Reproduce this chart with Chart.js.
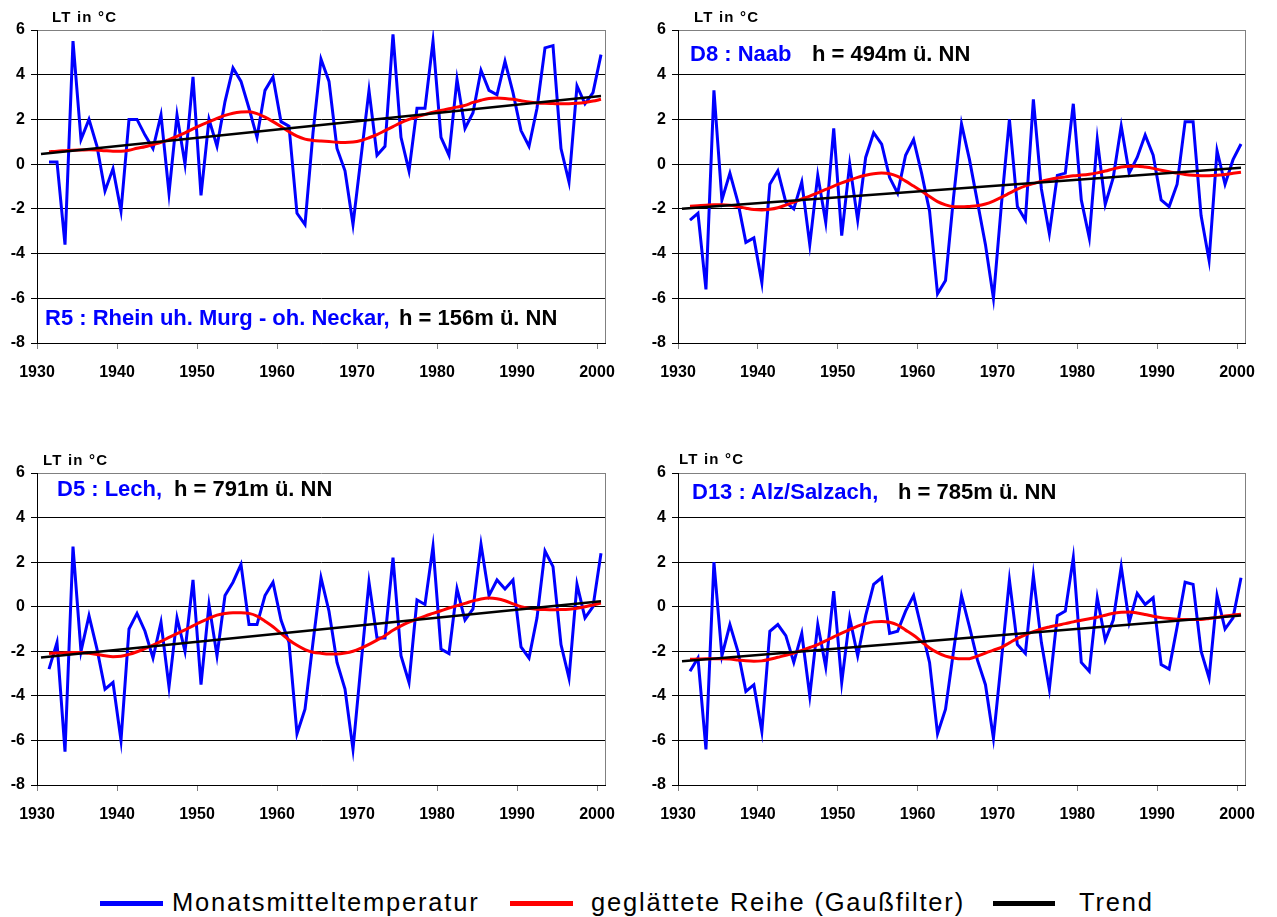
<!DOCTYPE html>
<html>
<head>
<meta charset="utf-8">
<title>Lufttemperatur 1931–2000</title>
<script src="https://cdn.jsdelivr.net/npm/chart.js@4.4.1/dist/chart.umd.min.js"></script>
<style>
  html, body { margin: 0; padding: 0; background: #fff; }
  body { width: 1277px; height: 917px; position: relative; overflow: hidden;
         font-family: "Liberation Sans", Arial, sans-serif; color: #000; }
  .panel { position: absolute; }
  canvas { display: block; }
  .unit { position: absolute; font-weight: bold; font-size: 15px; line-height: 1;
          letter-spacing: 1.2px; white-space: nowrap; }
  .title { position: absolute; font-weight: bold; font-size: 22px; line-height: 1; white-space: nowrap; }
  .blue { color: #0000ff; }
  .legend-line { position: absolute; height: 5px; }
  .legend-text { position: absolute; font-size: 25.5px; line-height: 1; letter-spacing: 1.8px; white-space: nowrap; }
</style>
</head>
<body>

<div class="panel" style="left:0;top:0"><canvas id="cR5" width="640" height="400"></canvas></div>
<div class="panel" style="left:640px;top:0"><canvas id="cD8" width="637" height="400"></canvas></div>
<div class="panel" style="left:0;top:445px"><canvas id="cD5" width="640" height="400"></canvas></div>
<div class="panel" style="left:640px;top:445px"><canvas id="cD13" width="637" height="400"></canvas></div>

<div class="unit" style="left:52px;top:9px">LT in °C</div>
<div class="unit" style="left:694px;top:9px">LT in °C</div>
<div class="unit" style="left:43px;top:452px">LT in °C</div>
<div class="unit" style="left:679px;top:451px">LT in °C</div>

<div class="title blue" style="left:45px;top:307px">R5 : Rhein uh. Murg - oh. Neckar,</div>
<div class="title" style="left:399px;top:307px">h = 156m ü. NN</div>
<div class="title blue" style="left:690px;top:43px">D8 : Naab</div>
<div class="title" style="left:812px;top:43px">h = 494m ü. NN</div>
<div class="title blue" style="left:57px;top:478px">D5 : Lech,</div>
<div class="title" style="left:174px;top:478px">h = 791m ü. NN</div>
<div class="title blue" style="left:692px;top:481px">D13 : Alz/Salzach,</div>
<div class="title" style="left:898px;top:481px">h = 785m ü. NN</div>

<div class="legend-line" style="left:100px;top:901px;width:63px;background:#0000ff"></div>
<div class="legend-text" style="left:172px;top:890px">Monatsmitteltemperatur</div>
<div class="legend-line" style="left:510px;top:901px;width:63px;background:#ff0000"></div>
<div class="legend-text" style="left:591px;top:890px">geglättete Reihe (Gaußfilter)</div>
<div class="legend-line" style="left:993px;top:901px;width:62px;background:#000"></div>
<div class="legend-text" style="left:1079px;top:890px">Trend</div>

<script>
// Years of the series (annual values, plotted at mid-year)
const years = [
  1931,1932,1933,1934,1935,1936,1937,1938,1939,1940,
  1941,1942,1943,1944,1945,1946,1947,1948,1949,1950,
  1951,1952,1953,1954,1955,1956,1957,1958,1959,1960,
  1961,1962,1963,1964,1965,1966,1967,1968,1969,1970,
  1971,1972,1973,1974,1975,1976,1977,1978,1979,1980,
  1981,1982,1983,1984,1985,1986,1987,1988,1989,1990,
  1991,1992,1993,1994,1995,1996,1997,1998,1999,2000
];
const trendYears = [1930, 2000];
const xTickYears = [1930, 1940, 1950, 1960, 1970, 1980, 1990, 2000];
const yTickValues = [-8, -6, -4, -2, 0, 2, 4, 6];

// R5 : Rhein uh. Murg - oh. Neckar
const r5Monthly = [
  0.1, 0.1, -3.6, 5.5, 1.1, 2.0, 0.8, -1.2, -0.2, -2.1,
  2.0, 2.0, 1.3, 0.7, 2.2, -1.3, 2.2, 0.0, 3.9, -1.4,
  2.0, 0.8, 2.8, 4.3, 3.7, 2.5, 1.2, 3.3, 3.9, 1.9,
  1.7, -2.2, -2.7, 1.4, 4.7, 3.7, 0.7, -0.3, -2.7, 0.3,
  3.3, 0.4, 0.8, 5.8, 1.2, -0.3, 2.5, 2.5, 5.5, 1.2,
  0.4, 3.8, 1.6, 2.3, 4.2, 3.3, 3.1, 4.6, 3.2, 1.5,
  0.8, 2.5, 5.2, 5.3, 0.7, -0.8, 3.5, 2.7, 3.2, 4.9
];
const r5Smoothed = [
  0.55, 0.58, 0.60, 0.62, 0.63, 0.64, 0.63, 0.60, 0.58, 0.58,
  0.62, 0.71, 0.78, 0.88, 0.98, 1.10, 1.24, 1.40, 1.58, 1.75,
  1.90, 2.05, 2.18, 2.28, 2.33, 2.34, 2.26, 2.10, 1.90, 1.68,
  1.45, 1.25, 1.12, 1.06, 1.03, 1.01, 0.98, 0.97, 0.99, 1.06,
  1.18, 1.32, 1.50, 1.68, 1.86, 2.00, 2.12, 2.22, 2.32, 2.40,
  2.48, 2.55, 2.63, 2.76, 2.86, 2.94, 2.96, 2.94, 2.90, 2.84,
  2.78, 2.74, 2.72, 2.71, 2.70, 2.70, 2.72, 2.76, 2.82, 2.90
];
const r5Trend = [0.45, 3.05];

// D8 : Naab
const d8Monthly = [
  -2.5, -2.2, -5.6, 3.3, -1.6, -0.4, -1.7, -3.5, -3.3, -5.3,
  -0.9, -0.3, -1.7, -2.0, -0.8, -3.6, -0.5, -2.6, 1.6, -3.2,
  0.0, -2.5, 0.3, 1.4, 0.9, -0.6, -1.3, 0.4, 1.1, -0.4,
  -2.1, -5.8, -5.2, -1.5, 1.8, 0.2, -1.7, -3.6, -6.0, -1.8,
  2.0, -1.9, -2.5, 2.9, -1.1, -3.1, -0.5, -0.4, 2.7, -1.6,
  -3.3, 1.1, -1.8, -0.6, 1.7, -0.4, 0.3, 1.3, 0.4, -1.6,
  -1.9, -0.9, 1.9, 1.9, -2.3, -4.3, 0.6, -0.9, 0.2, 0.9
];
const d8Smoothed = [
  -1.88, -1.86, -1.84, -1.82, -1.82, -1.84, -1.90, -1.97, -2.03, -2.05,
  -2.02, -1.95, -1.83, -1.70, -1.56, -1.43, -1.28, -1.13, -0.98, -0.84,
  -0.71, -0.59, -0.50, -0.43, -0.40, -0.43, -0.55, -0.76, -0.98, -1.20,
  -1.45, -1.68, -1.82, -1.90, -1.91, -1.89, -1.86, -1.78, -1.65, -1.48,
  -1.30, -1.12, -0.97, -0.87, -0.77, -0.69, -0.62, -0.57, -0.52, -0.49,
  -0.45, -0.39, -0.31, -0.21, -0.13, -0.09, -0.09, -0.13, -0.19, -0.27,
  -0.34, -0.40, -0.46, -0.50, -0.52, -0.52, -0.50, -0.46, -0.41, -0.36
];
const d8Trend = [-2.0, -0.16];

// D5 : Lech
const d5Monthly = [
  -2.8, -1.6, -6.5, 2.7, -2.0, -0.4, -1.9, -3.7, -3.4, -6.0,
  -1.0, -0.3, -1.1, -2.3, -0.7, -3.6, -0.5, -2.0, 1.2, -3.5,
  0.1, -2.2, 0.5, 1.1, 1.9, -0.8, -0.8, 0.5, 1.1, -0.6,
  -1.6, -5.7, -4.6, -1.6, 1.3, -0.2, -2.5, -3.7, -6.4, -2.6,
  1.1, -1.4, -1.4, 2.2, -2.2, -3.4, 0.3, 0.1, 2.7, -1.9,
  -2.1, 0.8, -0.6, -0.1, 2.8, 0.5, 1.2, 0.8, 1.2, -1.8,
  -2.3, -0.5, 2.5, 1.8, -1.7, -3.2, 1.0, -0.5, 0.0, 2.4
];
const d5Smoothed = [
  -2.10, -2.08, -2.07, -2.06, -2.06, -2.09, -2.14, -2.20, -2.24, -2.22,
  -2.14, -2.02, -1.88, -1.72, -1.56, -1.38, -1.21, -1.04, -0.86, -0.68,
  -0.52, -0.38, -0.30, -0.27, -0.27, -0.30, -0.42, -0.65, -0.90, -1.20,
  -1.49, -1.73, -1.92, -2.04, -2.09, -2.12, -2.12, -2.08, -2.00, -1.86,
  -1.69, -1.50, -1.30, -1.06, -0.86, -0.69, -0.55, -0.42, -0.30, -0.18,
  -0.06, 0.05, 0.15, 0.26, 0.35, 0.39, 0.36, 0.27, 0.13, 0.00,
  -0.07, -0.11, -0.13, -0.14, -0.13, -0.11, -0.07, 0.00, 0.08, 0.16
];
const d5Trend = [-2.28, 0.24];

// D13 : Alz/Salzach
const d13Monthly = [
  -2.9, -2.3, -6.4, 2.0, -2.2, -0.8, -2.0, -3.8, -3.5, -5.6,
  -1.1, -0.8, -1.3, -2.5, -1.2, -4.0, -0.8, -2.7, 0.7, -3.4,
  -0.5, -2.2, -0.4, 1.0, 1.3, -1.2, -1.1, -0.2, 0.5, -1.0,
  -2.5, -5.7, -4.6, -2.0, 0.5, -0.9, -2.4, -3.5, -5.9, -2.4,
  1.2, -1.7, -2.1, 1.4, -1.6, -3.7, -0.4, -0.2, 2.2, -2.5,
  -2.9, 0.4, -1.5, -0.6, 1.8, -0.7, 0.6, 0.1, 0.4, -2.6,
  -2.8, -0.9, 1.1, 1.0, -2.0, -3.2, 0.5, -1.0, -0.5, 1.3
];
const d13Smoothed = [
  -2.36, -2.35, -2.34, -2.33, -2.33, -2.35, -2.39, -2.43, -2.45, -2.43,
  -2.36, -2.27, -2.18, -2.08, -1.96, -1.83, -1.70, -1.53, -1.35, -1.19,
  -1.03, -0.87, -0.76, -0.68, -0.66, -0.70, -0.82, -1.05, -1.28, -1.57,
  -1.85, -2.06, -2.22, -2.30, -2.34, -2.33, -2.22, -2.08, -1.95, -1.82,
  -1.62, -1.42, -1.26, -1.12, -1.00, -0.91, -0.83, -0.76, -0.68, -0.61,
  -0.54, -0.47, -0.38, -0.29, -0.25, -0.24, -0.28, -0.35, -0.43, -0.49,
  -0.53, -0.56, -0.57, -0.57, -0.57, -0.53, -0.48, -0.42, -0.37, -0.34
];
const d13Trend = [-2.45, -0.39];

const tickFont = { family: '"Liberation Sans", Arial, sans-serif', size: 16, weight: 'bold' };

// Grey frame on the right-hand side of the plot area
const rightFrame = {
  id: 'rightFrame',
  beforeDatasetsDraw(chart) {
    const a = chart.chartArea, c = chart.ctx;
    c.save();
    c.strokeStyle = '#808080';
    c.lineWidth = 1;
    c.beginPath();
    c.moveTo(Math.round(a.right) + 0.5, a.top);
    c.lineTo(Math.round(a.right) + 0.5, a.bottom);
    c.stroke();
    c.restore();
  }
};

// annual values are plotted at mid-year
const toPoints = (xs, ys) => xs.map((yr, i) => ({ x: yr + 0.5, y: ys[i] }));

function drawPanel(id, monthly, smoothed, trend, box) {
  return new Chart(document.getElementById(id), {
    type: 'line',
    data: {
      datasets: [
        { label: 'Monatsmitteltemperatur', data: toPoints(years, monthly),
          borderColor: '#0000ff', borderWidth: 3, pointRadius: 0, tension: 0, order: 3 },
        { label: 'geglättete Reihe (Gaußfilter)', data: toPoints(years, smoothed),
          borderColor: '#ff0000', borderWidth: 3, pointRadius: 0,
          cubicInterpolationMode: 'monotone', order: 2 },
        { label: 'Trend', data: toPoints(trendYears, trend),
          borderColor: '#000000', borderWidth: 2.5, pointRadius: 0, tension: 0, order: 1 }
      ]
    },
    options: {
      responsive: false,
      animation: false,
      events: [],
      layout: { padding: { left: 0, right: box.right, top: box.top, bottom: 0 } },
      plugins: { legend: { display: false }, tooltip: { enabled: false } },
      scales: {
        x: {
          type: 'linear', min: 1930, max: 2001,
          afterBuildTicks: s => { s.ticks = xTickYears.map(v => ({ value: v })); },
          afterFit: s => { s.height = box.xh; },
          grid: { drawOnChartArea: false, drawTicks: true, tickLength: 6, tickColor: '#808080' },
          border: { color: '#000', width: 1 },
          ticks: { font: tickFont, color: '#000', padding: 14, maxRotation: 0, autoSkip: false,
                   callback: v => String(v) }
        },
        y: {
          type: 'linear', min: -8, max: 6,
          afterBuildTicks: s => { s.ticks = yTickValues.map(v => ({ value: v })); },
          afterFit: s => { s.width = box.yw; },
          grid: { color: c => (c.tick && c.tick.value === 6 ? '#808080' : '#000'),
                  tickColor: '#000', tickLength: 6, lineWidth: 1 },
          border: { color: '#000', width: 1 },
          ticks: { font: tickFont, color: '#000', padding: 6, callback: v => String(v) }
        }
      }
    },
    plugins: [rightFrame]
  });
}

drawPanel('cR5',  r5Monthly,  r5Smoothed,  r5Trend,  { yw: 37, right: 35, top: 30, xh: 57 });
drawPanel('cD8',  d8Monthly,  d8Smoothed,  d8Trend,  { yw: 38, right: 32, top: 30, xh: 57 });
drawPanel('cD5',  d5Monthly,  d5Smoothed,  d5Trend,  { yw: 37, right: 35, top: 28, xh: 60 });
drawPanel('cD13', d13Monthly, d13Smoothed, d13Trend, { yw: 38, right: 32, top: 28, xh: 60 });
</script>
</body>
</html>
